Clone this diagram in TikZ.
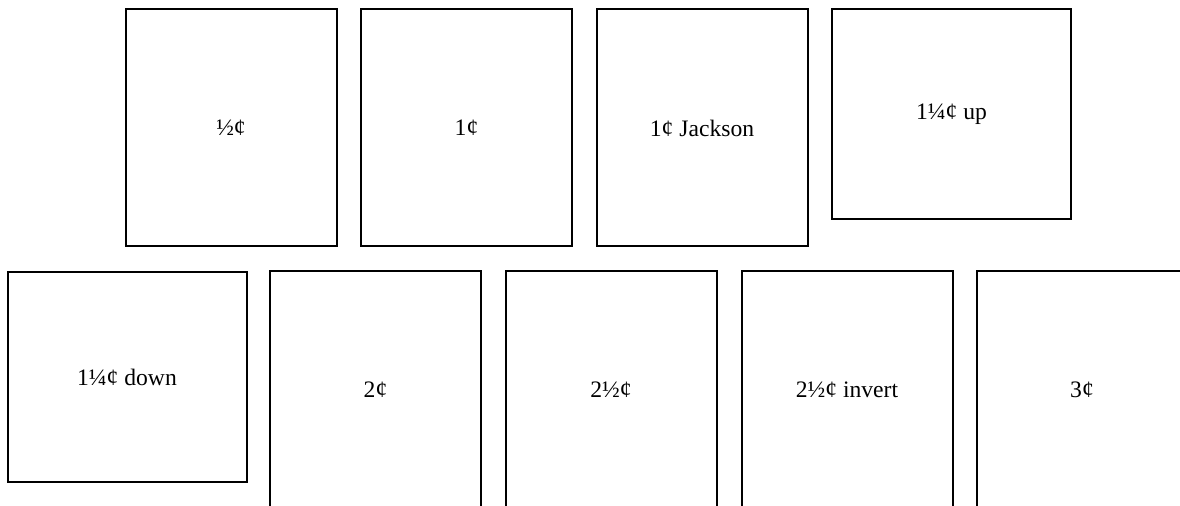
\documentclass[tikz,border=0pt]{standalone}
\usepackage{fontspec}
\setmainfont{Liberation Serif}
\begin{document}
\begin{tikzpicture}[x=0.5pt,y=-0.5pt,
  stamp/.style={draw=black, line width=1pt, inner sep=0pt, outer sep=0pt,
    font=\fontsize{11.8}{14}\selectfont, align=center},
  tallbox/.style={stamp, minimum width=105.5pt, minimum height=118.5pt},
  widebox/.style={stamp, minimum width=119.5pt, minimum height=105pt}]
\clip (0,0) rectangle (1180,506);
\fill[white] (0,0) rectangle (1180,506);
% row 1
\node[tallbox] (half) at (231,128) {½¢};
\node[tallbox] (one) at (466.5,128) {1¢};
\node[tallbox] (jackson) at (702,128) {1¢ Jackson};
\node[widebox] (qup) at (951.5,114.5) {1¼¢ up};
% row 2
\node[widebox] (qdown) at (127,377) {1¼¢ down};
\node[tallbox] (two) at (375.5,390) {2¢};
\node[tallbox] (twohalf) at (611,390) {2½¢};
\node[tallbox] (invert) at (847,390) {2½¢ invert};
\node[tallbox] (three) at (1082,390) {3¢};
\end{tikzpicture}
\end{document}
